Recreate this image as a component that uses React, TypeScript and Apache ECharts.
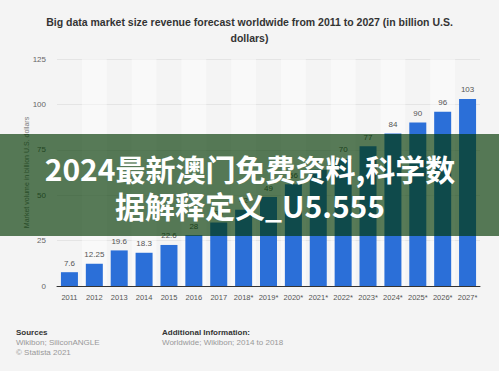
import React, { useEffect, useRef } from "react";
import * as echarts from "echarts";

const categories = ["2011", "2012", "2013", "2014", "2015", "2016", "2017", "2018*", "2019*", "2020*", "2021*", "2022*", "2023*", "2024*", "2025*", "2026*", "2027*"];
const values = [7.6, 12.25, 19.6, 18.3, 22.6, 28, 35, 42, 49, 56, 64, 70, 77, 84, 90, 96, 103];
const yTicks = { min: 0, max: 125, interval: 25 };
const titleText = "Big data market size revenue forecast worldwide from 2011 to 2027 (in billion U.S.\ndollars)";
const yAxisTitle = "Market volume in billion U.S. dollars";
const bannerLines = ["2024最新澳门免费资料,科学数", "据解释定义_U5.555"];
const sourcesLines = ["Sources", "Wikibon; SiliconANGLE", "© Statista 2021"];
const infoLines = ["Additional Information:", "Worldwide; Wikibon; 2014 to 2018"];

export default function App() {
  const ref = useRef<HTMLDivElement>(null);
  useEffect(() => {
    if (!ref.current) return;
    const chart = echarts.init(ref.current, undefined, { renderer: "svg" });
    const font = "Liberation Sans, Arial, sans-serif";
    chart.setOption({
      animation: false,
      backgroundColor: "#f4f4f4",
      title: {
        text: titleText,
        left: "center",
        top: 9,
        textStyle: { fontSize: 10.5, fontWeight: "bold", color: "#333", lineHeight: 16, fontFamily: font },
      },
      grid: { left: 57, right: 19, top: 59, bottom: 85 },
      xAxis: {
        type: "category",
        data: categories,
        axisLine: { lineStyle: { color: "#333", width: 1 } },
        axisTick: { show: false },
        axisLabel: { color: "#555", fontSize: 7.5, margin: 7, interval: 0, fontFamily: font },
        splitArea: { show: true, interval: 0, areaStyle: { color: ["rgba(255,255,255,0)", "rgba(255,255,255,0.45)"] } },
      },
      yAxis: {
        type: "value",
        min: yTicks.min,
        max: yTicks.max,
        interval: yTicks.interval,
        name: yAxisTitle,
        nameLocation: "middle",
        nameGap: 27,
        nameMoveOverlap: false,
        nameTextStyle: { color: "#777", fontSize: 7, fontFamily: font },
        axisLine: { show: false },
        axisTick: { show: false },
        axisLabel: { color: "#666", fontSize: 8, margin: 11, fontFamily: font },
        splitLine: { lineStyle: { color: "#e4e4e4", width: 1 } },
      },
      series: [
        {
          type: "bar",
          data: values,
          barWidth: 17,
          itemStyle: { color: "#2b6fd8" },
          label: { show: true, position: "top", distance: 5, color: "#555", fontSize: 8, fontFamily: font },
        },
      ],
      graphic: [
        { type: "rect", z: 100, shape: { x: 0, y: 134, width: 499, height: 102 }, style: { fill: "rgba(0,54,0,0.65)" } },
        ...bannerLines.map((t, i) => ({
          type: "text",
          z: 101,
          x: 250,
          y: 168 + i * 37,
          style: {
            text: t,
            fill: "#ffffff",
            font: "bold 30px 'Noto Sans CJK SC', 'Noto Sans', sans-serif",
            textAlign: "center",
            textVerticalAlign: "middle",
          },
        })),
        ...sourcesLines.map((t, i) => ({
          type: "text",
          x: 16,
          y: 332 + i * 10,
          style: {
            text: t,
            fill: i === 0 ? "#333" : "#999",
            font: `${i === 0 ? "bold " : ""}8px ${font}`,
            textVerticalAlign: "middle",
          },
        })),
        ...infoLines.map((t, i) => ({
          type: "text",
          x: 162,
          y: 332 + i * 10,
          style: {
            text: t,
            fill: i === 0 ? "#333" : "#999",
            font: `${i === 0 ? "bold " : ""}8px ${font}`,
            textVerticalAlign: "middle",
          },
        })),
      ],
    });
    return () => chart.dispose();
  }, []);
  return <div ref={ref} style={{ position: "fixed", left: 0, top: 0, width: 499, height: 371 }} />;
}
